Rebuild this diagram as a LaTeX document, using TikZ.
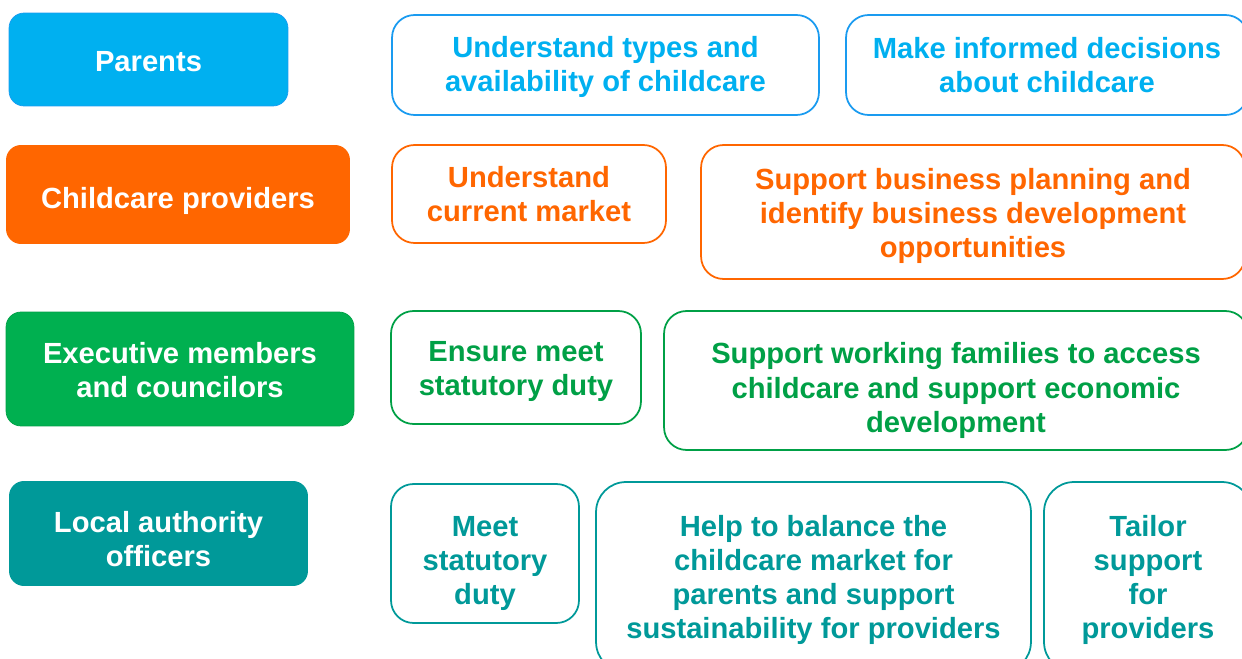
\documentclass[tikz,border=0pt]{standalone}
\usepackage{fontspec}
\setmainfont{Liberation Sans}
\definecolor{parblue}{HTML}{00B0F0}
\definecolor{parline}{HTML}{1A9BF0}
\definecolor{provorange}{HTML}{FF6600}
\definecolor{execgreen}{HTML}{00B050}
\definecolor{execline}{HTML}{00A046}
\definecolor{offteal}{HTML}{009999}
\begin{document}
\begin{tikzpicture}[x=0.02cm, y=-0.02cm,
  lbl/.style={rounded corners=0.3cm, inner sep=0pt},
  aim/.style={rounded corners=0.45cm, line width=1pt, fill=white, inner sep=0pt},
  txt/.style={align=center, inner sep=0pt, font=\bfseries\fontsize{16.6}{19.4}\selectfont}]
\useasboundingbox (0,0) rectangle (1242,659);
\clip (0,0) rectangle (1242,659);
% parents
\node[lbl, fill=parblue, draw=parline, minimum width=5.58cm, minimum height=1.86cm,
  label={[txt, text=white, yshift=-0.04cm]center:{Parents}}] (p0) at (148.5,59.5){};
\node[aim, draw=parline, minimum width=8.54cm, minimum height=2cm,
  label={[txt, text=parblue, yshift=-0.04cm]center:{Understand types and\\availability of childcare}}] (p1) at (605.5,65){};
\node[aim, draw=parline, minimum width=8.04cm, minimum height=2cm,
  label={[txt, text=parblue]center:{Make informed decisions\\about childcare}}] (p2) at (1047,65){};
% providers
\node[lbl, fill=provorange, minimum width=6.88cm, minimum height=1.98cm,
  label={[txt, text=white, yshift=-0.12cm]center:{Childcare providers}}] (c0) at (178,194.5){};
\node[aim, draw=provorange, minimum width=5.48cm, minimum height=1.96cm,
  label={[txt, text=provorange]center:{Understand\\current market}}] (c1) at (529,194){};
\node[aim, draw=provorange, minimum width=10.88cm, minimum height=2.68cm,
  label={[txt, text=provorange, yshift=-0.08cm]center:{Support business planning and\\identify business development\\opportunities}}] (c2) at (973,212){};
% executive
\node[lbl, fill=execgreen, draw=execline, minimum width=6.96cm, minimum height=2.28cm,
  label={[txt, text=white, yshift=-0.02cm]center:{Executive members\\and councilors}}] (e0) at (180,369){};
\node[aim, draw=execline, minimum width=5cm, minimum height=2.26cm,
  label={[txt, text=execline, yshift=-0.08cm]center:{Ensure meet\\statutory duty}}] (e1) at (516,367.5){};
\node[aim, draw=execline, minimum width=11.68cm, minimum height=2.78cm,
  label={[txt, text=execline, yshift=-0.2cm]center:{Support working families to access\\childcare and support economic\\development}}] (e2) at (956,380.5){};
% officers
\node[lbl, fill=offteal, minimum width=5.98cm, minimum height=2.1cm,
  label={[txt, text=white, yshift=-0.12cm]center:{Local authority\\officers}}] (o0) at (158.5,533.5){};
\node[aim, draw=offteal, minimum width=3.76cm, minimum height=2.78cm,
  label={[txt, text=offteal, yshift=-0.2cm]center:{Meet\\statutory\\duty}}] (o1) at (485,553.5){};
\node[aim, rounded corners=0.6cm, draw=offteal, minimum width=8.7cm, minimum height=3.8cm,
  label={[txt, text=offteal, yshift=-0.06cm]center:{Help to balance the\\childcare market for\\parents and support\\sustainability for providers}}] (o2) at (813.5,577){};
\node[aim, rounded corners=0.6cm, draw=offteal, minimum width=4.16cm, minimum height=3.8cm,
  label={[txt, text=offteal, yshift=-0.06cm]center:{Tailor\\support\\for\\providers}}] (o3) at (1148,577){};

\end{tikzpicture}
\end{document}
